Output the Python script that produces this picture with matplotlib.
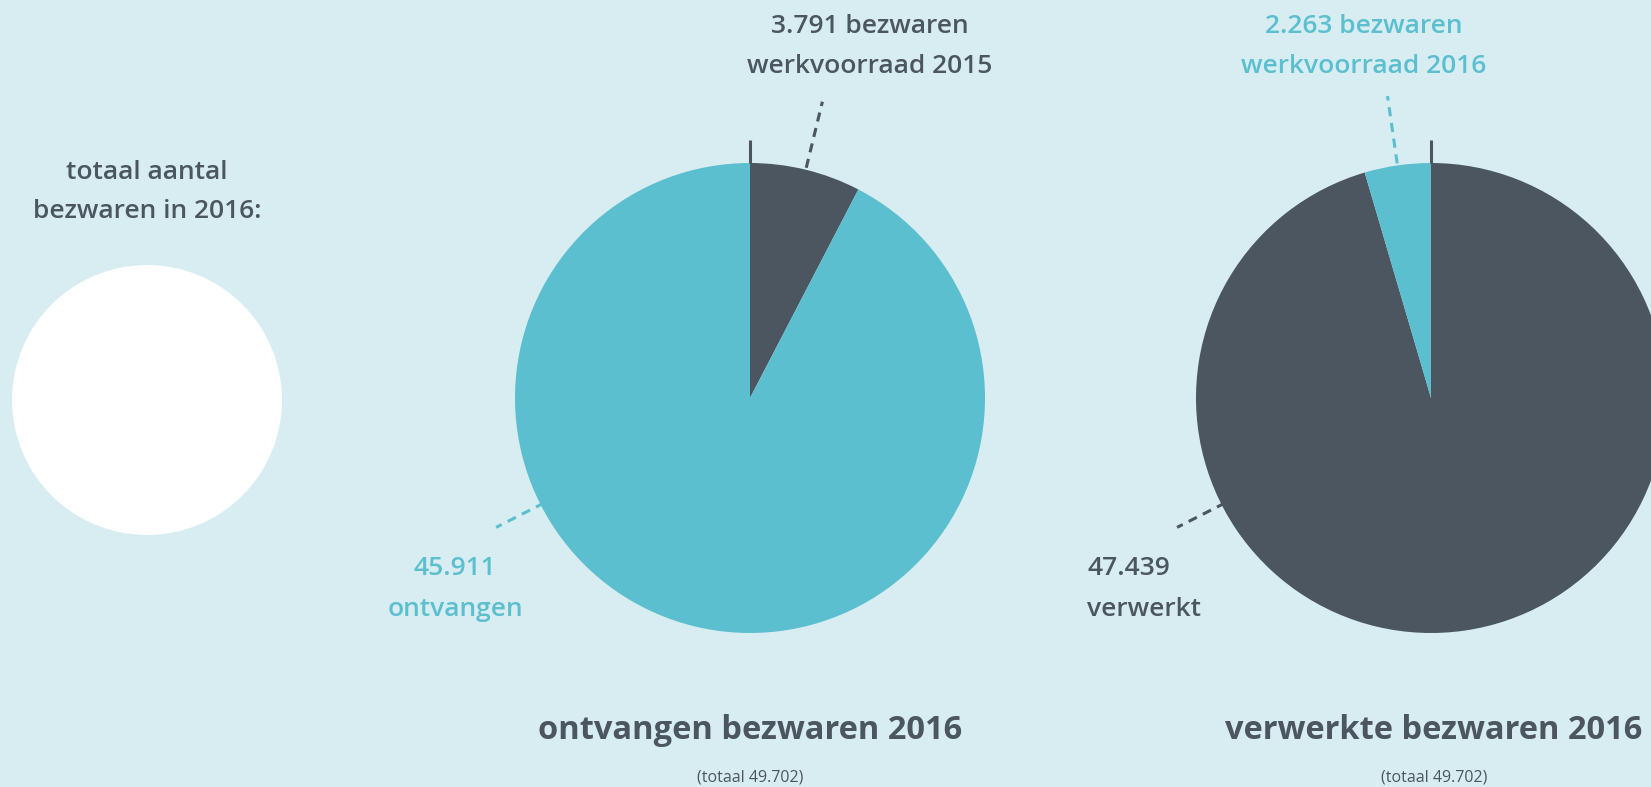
import numpy as np
import matplotlib
matplotlib.use("Agg")
import matplotlib.pyplot as plt
from matplotlib.patches import Circle

plt.rcParams['font.family'] = ['Open Sans', 'DejaVu Sans']

# data
total = 49702
received_vals = [3791, 45911]        # werkvoorraad 2015, ontvangen
processed_vals = [47439, 2263]       # verwerkt, werkvoorraad 2016
received_labels = ['3.791 bezwaren\nwerkvoorraad 2015', '45.911\nontvangen']
processed_labels = ['47.439\nverwerkt', '2.263 bezwaren\nwerkvoorraad 2016']
titles = ['ontvangen bezwaren 2016', 'verwerkte bezwaren 2016']
subtitle = '(totaal 49.702)'
intro = 'totaal aantal\nbezwaren in 2016:'

BG = '#d8edf1'
DARK = '#4b5660'
CYAN = '#5bbfcf'

W, H = 1651, 787
fig = plt.figure(figsize=(W / 100, H / 100), dpi=100, facecolor=BG)
ax = fig.add_axes([0, 0, 1, 1])
ax.set_facecolor(BG)

def Y(y):  # pixel row from top -> data y
    return H - y

R = 235
c1 = (750, Y(398))
c2 = (1431, Y(398))

ax.pie(received_vals, colors=[DARK, CYAN], startangle=90, counterclock=False,
       center=c1, radius=R, frame=True, wedgeprops=dict(linewidth=0))
ax.pie(processed_vals, colors=[DARK, CYAN], startangle=90, counterclock=False,
       center=c2, radius=R, frame=True, wedgeprops=dict(linewidth=0))

# white circle on the left
ax.add_patch(Circle((147, Y(400)), 135, color='white', lw=0))

# tick at the top of each pie
for c in (c1, c2):
    ax.plot([c[0], c[0]], [c[1] + R, c[1] + R + 23], color=DARK, lw=2.2,
            solid_capstyle='butt')

def leader(c, ang, r0, r1, color):
    a = np.deg2rad(ang)
    ax.plot([c[0] + r0 * np.cos(a), c[0] + r1 * np.cos(a)],
            [c[1] + r0 * np.sin(a), c[1] + r1 * np.sin(a)],
            color=color, lw=2.2, dashes=(3, 2.2))

# leaders on the small wedges (mid-angle of the wedge)
a1 = 90 - 360 * received_vals[0] / sum(received_vals) / 2
a2 = 90 + 360 * processed_vals[1] / sum(processed_vals) / 2
leader(c1, a1, R + 2, R + 70, DARK)
leader(c2, a2, R + 2, R + 70, CYAN)
leader(c1, 207, R - 4, R + 50, CYAN)
leader(c2, 207, R - 4, R + 50, DARK)

def label(x, ys, txt, color, ha='center', fs=19):
    for y, line in zip(ys, txt.split('\n')):
        ax.text(x, Y(y), line, color=color, fontsize=fs, ha=ha, va='baseline',
                fontweight='semibold')

label(870, (33, 73), received_labels[0], DARK)
label(1364, (33, 73), processed_labels[1], CYAN)
label(455, (575, 616), received_labels[1], CYAN)
label(1087, (575, 616), processed_labels[0], DARK, ha='left')
label(147, (179, 218), intro, DARK)

for cx, t in zip((c1[0], c2[0] + 3), titles):
    ax.text(cx, Y(739), t, color=DARK, fontsize=23.5, fontweight='bold',
            ha='center', va='baseline')
    ax.text(cx, Y(782), subtitle, color=DARK, fontsize=11.5, ha='center',
            va='baseline')

ax.set_xlim(0, W)
ax.set_ylim(0, H)
ax.set_aspect('auto')
ax.axis('off')

fig.savefig('out.png', dpi=100, facecolor=BG)
